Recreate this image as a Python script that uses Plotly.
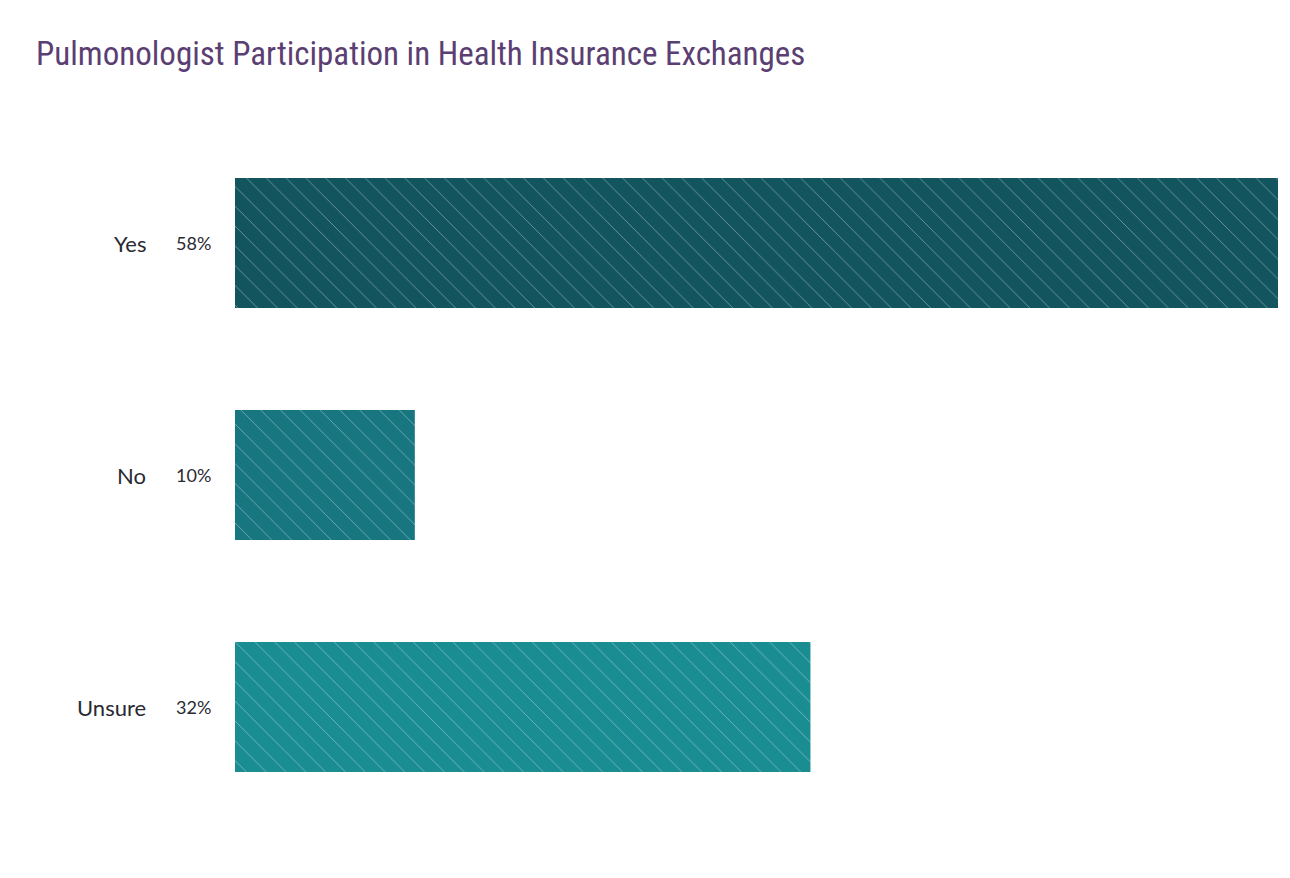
import plotly.graph_objects as go

categories = ["Yes", "No", "Unsure"]
values = [58, 10, 32]
labels = ["58%", "10%", "32%"]
colors = ["#13555f", "#177680", "#1a8d92"]

L, R, T, B = 227, 20, 119, 63
W = 1290 - L - R

fig = go.Figure(go.Bar(
    y=categories, x=values, orientation="h", width=0.56,
    marker=dict(color=colors, line=dict(width=0),
                pattern=dict(shape="\\", fgcolor="rgba(200,220,225,0.35)", size=14, solidity=0.05)),
    hoverinfo="skip"))

ann = []
for c, lab in zip(categories, labels):
    ann.append(dict(x=(140 - L) / W, y=c, xref="paper", yref="y", text=c, showarrow=False,
                    xanchor="right", font=dict(family="Lato, Noto Sans", size=22, color="#2a2a33")))
    ann.append(dict(x=(185 - L) / W, y=c, xref="paper", yref="y", text=lab, showarrow=False,
                    xanchor="center", font=dict(family="Lato, Noto Sans", size=18, color="#2a2a33")))

fig.update_layout(
    width=1290, height=878, margin=dict(l=L, r=R, t=T, b=B),
    paper_bgcolor="white", plot_bgcolor="white", showlegend=False,
    title=dict(text="Pulmonologist Participation in Health Insurance Exchanges",
               x=28 / 1290, xanchor="left", y=1 - 45 / 878, yanchor="middle",
               font=dict(family="Roboto Condensed, Roboto", size=33, color="#5b3f73")),
    xaxis=dict(range=[0, 58], visible=False),
    yaxis=dict(autorange="reversed", showticklabels=False, showgrid=False, zeroline=False, range=[2.5, -0.5]),
    annotations=ann)
fig.write_html("out.html")
